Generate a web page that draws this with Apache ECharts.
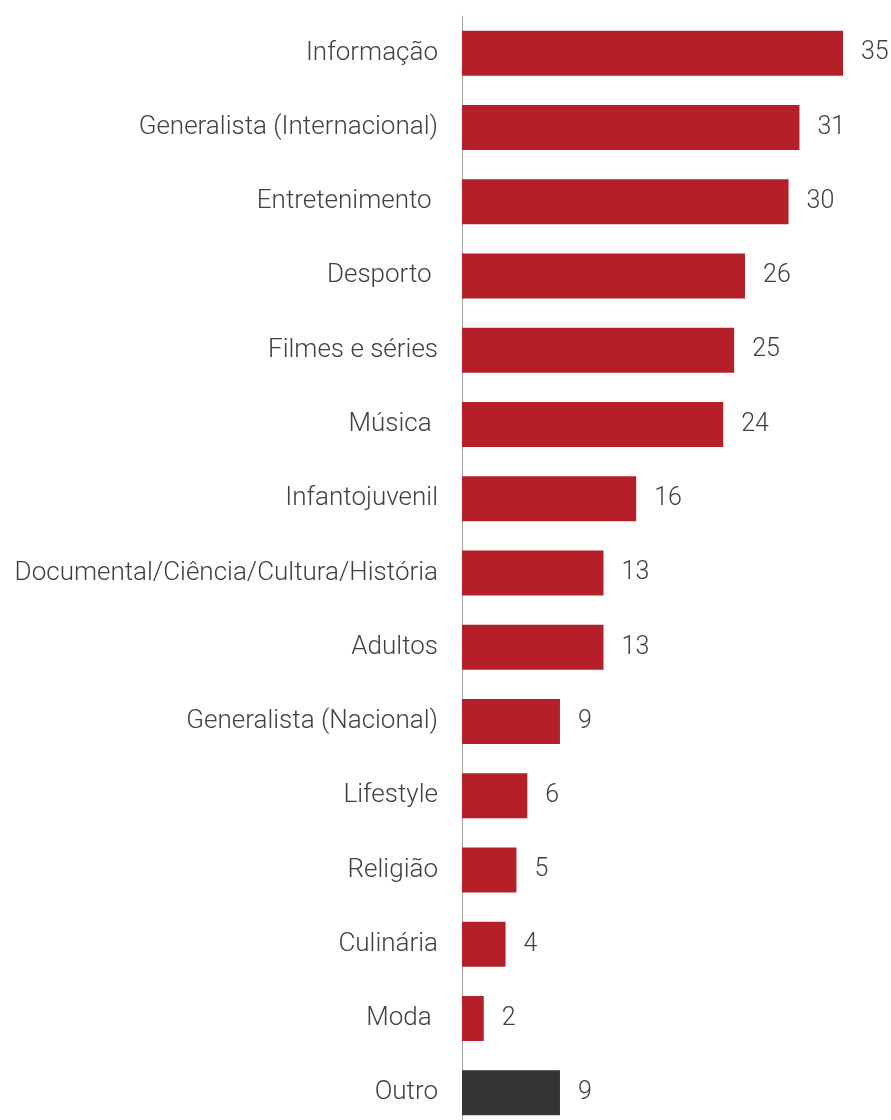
<!DOCTYPE html>
<html>
<head>
<meta charset="utf-8">
<style>
  html, body { margin: 0; padding: 0; background: #ffffff; overflow: hidden; }
  /* the plot runs a few pixels past the bottom edge of the page */
  #chart { width: 891px; height: 1132px; }
</style>
<script src="https://cdn.jsdelivr.net/npm/echarts@6/dist/echarts.min.js"></script>
</head>
<body>
<div id="chart"></div>
<script>
// Channel genres, top to bottom
const categories = [
  'Informação',
  'Generalista (Internacional)',
  'Entretenimento ',
  'Desporto ',
  'Filmes e séries',
  'Música ',
  'Infantojuvenil',
  'Documental/Ciência/Cultura/História',
  'Adultos',
  'Generalista (Nacional)',
  'Lifestyle',
  'Religião',
  'Culinária',
  'Moda ',
  'Outro'
];
const values = [35, 31, 30, 26, 25, 24, 16, 13, 13, 9, 6, 5, 4, 2, 9];
const barColors = ['#b52028', '#333333'];

const FONT = 'Roboto';
const TEXT = '#404040';

const chart = echarts.init(document.getElementById('chart'), null, { renderer: 'canvas' });

chart.setOption({
  animation: false,
  grid: { left: 462, top: 16, width: 381, height: 1114, containLabel: false },
  xAxis: {
    type: 'value',
    min: 0,
    max: 35,
    show: false
  },
  yAxis: {
    type: 'category',
    inverse: true,
    data: categories,
    axisLine: { show: true, lineStyle: { color: '#a6a6a6', width: 1 } },
    axisTick: { show: false },
    axisLabel: {
      margin: 24,
      fontFamily: FONT,
      fontWeight: 300,
      fontSize: 26,
      color: TEXT
    }
  },
  series: [{
    type: 'bar',
    barWidth: 45,
    data: values.map((v, i) => ({
      value: v,
      itemStyle: { color: i === values.length - 1 ? barColors[1] : barColors[0] }
    })),
    label: {
      show: true,
      position: 'right',
      distance: 18,
      fontFamily: FONT,
      fontWeight: 300,
      fontSize: 25,
      color: TEXT
    }
  }]
});
</script>
</body>
</html>
